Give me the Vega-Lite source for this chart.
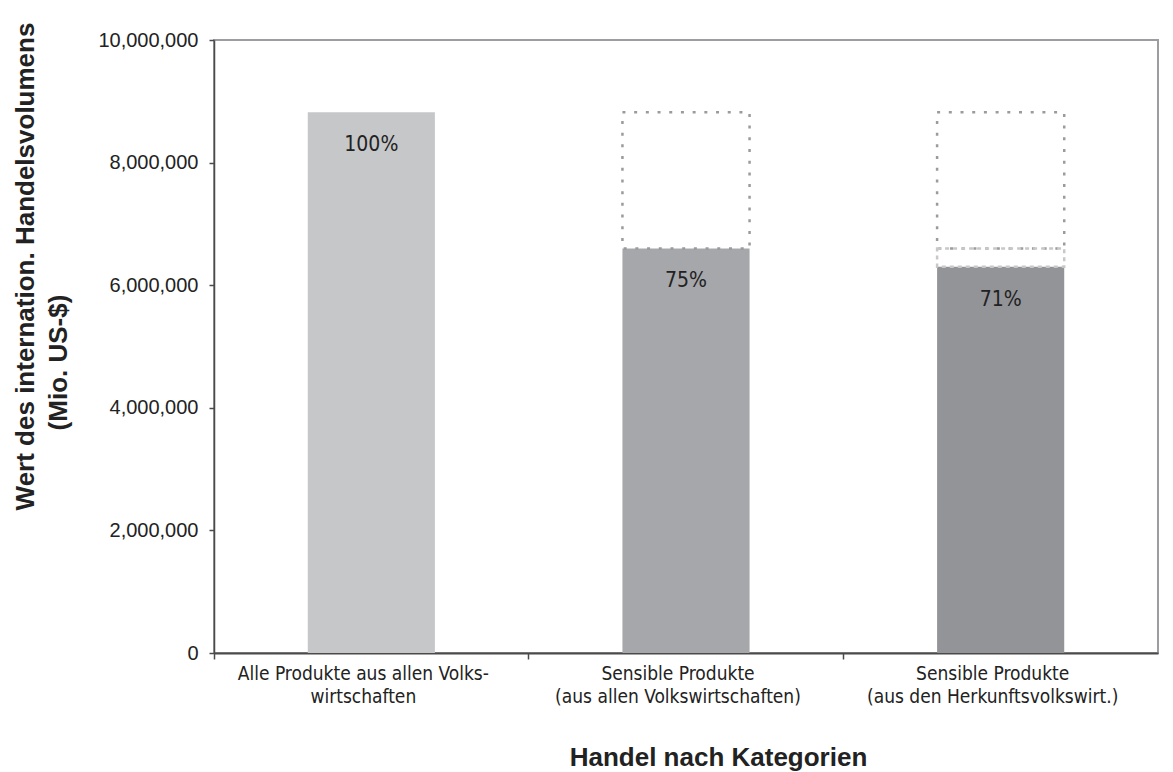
{
  "$schema": "https://vega.github.io/schema/vega-lite/v6.json",
  "autosize": {"type": "none"},
  "padding": {"left": 214, "top": 40, "right": 15, "bottom": 119},
  "width": 944,
  "height": 613,
  "background": "white",
  "title": {
    "text": "Wert des internation. Handelsvolumens",
    "orient": "left",
    "anchor": "middle",
    "frame": "group",
    "offset": 6,
    "dx": 80,
    "font": "Liberation Sans",
    "fontSize": 26,
    "fontWeight": "bold",
    "color": "#222222"
  },
  "datasets": {
    "bars": [
      {"kategorie": "Alle Produkte aus allen Volks-|wirtschaften", "wert": 8820000},
      {"kategorie": "Sensible Produkte|(aus allen Volkswirtschaften)", "wert": 6600000},
      {"kategorie": "Sensible Produkte|(aus den Herkunftsvolkswirt.)", "wert": 6300000}
    ],
    "segments": [
      {"kategorie": "Sensible Produkte|(aus allen Volkswirtschaften)", "von": 6600000, "bis": 8820000, "teil": "Rest"},
      {"kategorie": "Sensible Produkte|(aus den Herkunftsvolkswirt.)", "von": 6600000, "bis": 8820000, "teil": "Rest"},
      {"kategorie": "Sensible Produkte|(aus den Herkunftsvolkswirt.)", "von": 6300000, "bis": 6600000, "teil": "Differenz"}
    ]
  },
  "layer": [
    {
      "data": {"name": "bars"},
      "mark": {"type": "bar", "width": {"band": 0.404}},
      "encoding": {
        "x": {
          "field": "kategorie",
          "type": "nominal",
          "sort": null,
          "scale": {
            "domain": [
              "Alle Produkte aus allen Volks-|wirtschaften",
              "Sensible Produkte|(aus allen Volkswirtschaften)",
              "Sensible Produkte|(aus den Herkunftsvolkswirt.)"
            ],
            "paddingInner": 0,
            "paddingOuter": 0
          },
          "axis": {
            "title": "Handel nach Kategorien",
            "titleX": 504,
            "titleY": 112,
            "titleAlign": "center",
            "titleBaseline": "alphabetic",
            "labelExpr": "split(datum.label, '|')",
            "labelAngle": 0,
            "labelAlign": "center",
            "labelBaseline": "top",
            "labelLineHeight": 23,
            "labelPadding": 5,
            "labelOffset": -8,
            "labelLimit": 0,
            "bandPosition": 0,
            "tickSize": 6,
            "domainWidth": 2,
            "labelFont": "DejaVu Sans Condensed",
            "labelFontSize": 19
          }
        },
        "y": {
          "field": "wert",
          "type": "quantitative",
          "scale": {"domain": [0, 10000000], "nice": false},
          "axis": {
            "title": "(Mio. US-$)",
            "titleX": -148,
            "titleY": 322,
            "titleAlign": "center",
            "titleBaseline": "alphabetic",
            "titleAngle": 270,
            "values": [0, 2000000, 4000000, 6000000, 8000000, 10000000],
            "format": ",d",
            "grid": false,
            "tickSize": 5,
            "labelPadding": 11,
            "domainWidth": 1.5,
            "labelFont": "Liberation Sans",
            "labelFontSize": 20
          }
        },
        "color": {
          "field": "kategorie",
          "type": "nominal",
          "scale": {
            "domain": [
              "Alle Produkte aus allen Volks-|wirtschaften",
              "Sensible Produkte|(aus allen Volkswirtschaften)",
              "Sensible Produkte|(aus den Herkunftsvolkswirt.)"
            ],
            "range": ["#c6c7c9", "#a6a7aa", "#939498"]
          },
          "legend": null
        }
      }
    },
    {
      "data": {"name": "segments"},
      "mark": {"type": "bar", "filled": false, "width": {"band": 0.404}, "strokeWidth": 2.5},
      "encoding": {
        "x": {"field": "kategorie", "type": "nominal", "sort": null},
        "y": {"field": "bis", "type": "quantitative"},
        "y2": {"field": "von"},
        "stroke": {
          "field": "teil",
          "type": "nominal",
          "scale": {"domain": ["Rest", "Differenz"], "range": ["#9b9b9d", "#c8c8ca"]},
          "legend": null
        },
        "strokeDash": {
          "field": "teil",
          "type": "nominal",
          "scale": {"domain": ["Rest", "Differenz"], "range": [[3, 8.7], [4, 4]]},
          "legend": null
        }
      }
    },
    {
      "data": {"name": "bars"},
      "transform": [
        {"joinaggregate": [{"op": "max", "field": "wert", "as": "gesamt"}]},
        {"calculate": "datum.wert / datum.gesamt", "as": "anteil"}
      ],
      "mark": {
        "type": "text",
        "baseline": "middle",
        "align": "center",
        "dy": 33,
        "font": "DejaVu Sans Condensed",
        "fontSize": 21,
        "color": "#222222"
      },
      "encoding": {
        "x": {"field": "kategorie", "type": "nominal", "sort": null},
        "y": {"field": "wert", "type": "quantitative"},
        "text": {"field": "anteil", "type": "quantitative", "format": ".0%"}
      }
    }
  ],
  "config": {
    "view": {"stroke": "#9d9da1", "strokeWidth": 2},
    "axis": {
      "domainColor": "#4a4a4a",
      "tickColor": "#4a4a4a",
      "tickWidth": 1.5,
      "labelColor": "#222222",
      "titleColor": "#222222",
      "titleFont": "Liberation Sans",
      "titleFontSize": 26,
      "titleFontWeight": "bold"
    }
  }
}
